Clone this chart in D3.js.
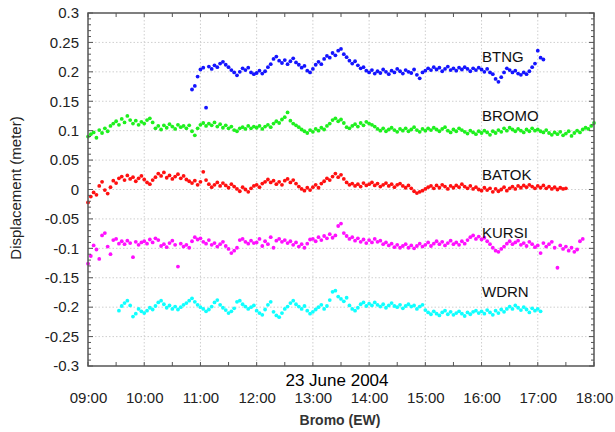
<!DOCTYPE html>
<html>
<head>
<meta charset="utf-8">
<script src="https://cdn.jsdelivr.net/npm/d3@7"></script>
<style>
  html, body { margin: 0; padding: 0; background: #fff; }
  svg { display: block; }
  text { font-family: "Liberation Sans", Arial, Helvetica, sans-serif; }
</style>
</head>
<body>
<svg id="chart" width="615" height="432"></svg>
<script>
// ---------- data (displacement in millimetres, one sample every 3 minutes) ----------
const sampleStepMin = 3;
const seriesNames = ["BTNG", "BROMO", "BATOK", "KURSI", "WDRN"];
const seriesColors = ["#1414ff", "#1ef01e", "#ff1010", "#ff10ff", "#10ffff"];
const seriesStart = ["10:51", "09:00", "09:00", "09:00", "09:33"];

const btngMm = [170,176,192,204,
 207,139,209,205,211,208,214,217,212,208,203,199,194,200,206,203,207,199,196,
 198,202,197,201,208,213,222,226,219,215,220,213,218,223,216,212,207,210,202,199,
 205,212,217,213,222,227,224,232,228,236,239,230,225,219,214,218,211,206,208,202,
 199,203,197,201,198,204,200,196,202,199,205,201,197,203,200,198,204,195,189,199,
 202,206,203,208,204,207,201,205,209,203,206,202,207,204,208,205,201,206,203,207,
 204,200,205,199,196,188,183,191,199,206,203,199,202,197,195,199,196,201,208,214,
 236,224,221];

const bromoMm = [
 90,94,97,88,101,96,104,99,108,112,116,110,120,114,125,118,112,117,110,115,
 112,118,121,114,104,108,102,109,105,111,107,103,110,106,108,104,109,99,92,104,
 110,113,108,112,109,114,107,111,105,109,104,107,101,99,104,106,103,108,104,107,
 105,108,103,107,110,106,112,116,113,119,123,131,117,112,109,106,102,99,96,101,
 98,103,100,105,102,108,112,118,121,116,119,113,106,104,108,111,107,113,109,115,
 112,110,107,103,100,104,99,102,105,101,98,103,100,104,99,102,106,101,98,103,
 100,104,101,105,102,99,103,106,100,97,102,99,104,101,98,95,100,97,94,99,
 96,100,97,93,99,96,101,98,104,100,105,102,99,103,100,97,102,99,104,100,
 102,99,97,101,96,93,97,94,98,92,95,99,91,96,100,97,102,105,103,108,
 113];

const batokMm = [
 -22,-12,-5,-9,6,13,-1,-7,4,15,11,19,22,16,24,18,21,14,19,23,
 17,12,9,16,21,27,23,29,20,24,18,22,26,19,23,17,14,11,15,8,
 13,30,16,9,4,8,12,6,11,7,3,9,5,1,-3,4,0,-4,2,6,
 8,4,10,13,17,12,15,9,13,8,15,18,12,16,10,5,1,-2,3,-1,
 4,8,3,10,14,19,16,22,27,21,25,18,12,8,10,6,9,5,11,7,
 9,12,7,10,5,8,11,6,9,4,8,10,6,3,7,2,-3,-6,-4,-2,
 1,4,6,2,7,3,8,5,1,6,3,7,4,9,5,2,6,1,4,0,
 -2,3,-1,2,-4,1,-3,0,4,-2,2,5,1,6,3,7,4,8,5,2,
 6,3,7,2,5,1,4,0,3,1,2];

const kursiMm = [
 -126,-113,-95,-102,-118,-78,-74,-97,-110,-86,-84,-92,-88,-93,-87,-91,-115,-89,-94,-90,
 -88,-92,-85,-90,-83,-86,-96,-93,-98,-91,-87,-94,-131,-92,-97,-94,-99,-88,-81,-85,
 -83,-89,-92,-86,-94,-91,-97,-93,-89,-96,-101,-108,-104,-99,-86,-84,-89,-92,-87,-91,
 -90,-84,-96,-88,-93,-81,-99,-87,-84,-89,-86,-91,-88,-94,-90,-97,-93,-99,-92,-85,
 -84,-88,-81,-86,-79,-83,-76,-82,-78,-62,-58,-74,-79,-84,-81,-87,-83,-89,-85,-91,
 -86,-90,-84,-89,-87,-93,-90,-95,-92,-98,-94,-99,-96,-93,-99,-95,-100,-96,-92,-97,
 -94,-90,-96,-92,-88,-93,-89,-95,-91,-87,-93,-90,-94,-88,-92,-86,-81,-78,-84,-80,
 -85,-82,-88,-93,-99,-104,-106,-101,-97,-92,-88,-93,-90,-87,-94,-91,-96,-89,-93,-98,
 -95,-108,-91,-97,-93,-89,-99,-133,-95,-101,-97,-104,-99,-106,-102,-88,-84];

const wdrnMm = [
 -206,-198,-193,-189,-197,-216,-211,-203,-207,
 -210,-206,-201,-204,-198,-192,-189,-195,-201,-197,-203,-199,-204,-200,-196,-193,-189,-185,-191,-196,
 -200,-203,-207,-204,-199,-192,-188,-196,-201,-205,-210,-207,-202,-191,-189,-195,-199,-203,-200,-197,
 -206,-210,-213,-204,-196,-191,-208,-214,-217,-210,-203,-199,-193,-189,-195,-199,-203,-198,-206,-211,
 -208,-204,-200,-196,-203,-198,-188,-174,-172,-182,-186,-190,-184,-197,-203,-206,-201,-195,-192,-198,
 -194,-197,-192,-196,-199,-195,-201,-197,-193,-198,-200,-196,-202,-198,-195,-199,-197,-203,-199,-196,
 -205,-209,-212,-207,-211,-214,-209,-206,-212,-208,-213,-210,-207,-211,-215,-209,-212,-208,-206,-210,
 -207,-211,-205,-209,-213,-206,-210,-204,-208,-203,-199,-203,-197,-201,-205,-200,-204,-209,-202,-206,
 -203,-207];

const seriesValues = [btngMm, bromoMm, batokMm, kursiMm, wdrnMm];

const yTicks = [0.3,0.25,0.2,0.15,0.1,0.05,0,-0.05,-0.1,-0.15,-0.2,-0.25,-0.3];
const xTickLabels = ["09:00","10:00","11:00","12:00","13:00","14:00","15:00","16:00","17:00","18:00"];
const dateLabel = "23 June 2004";
const xTitle = "Bromo (EW)";
const yTitle = "Displacement (meter)";

// ---------- drawing ----------
const svg = d3.select("#chart");
const pLeft = 88, pRight = 594, pTop = 13, pBottom = 366;

const day = "2004-06-23";
const parse = d3.timeParse("%Y-%m-%d %H:%M");
const x = d3.scaleTime()
  .domain([parse(day + " 09:00"), parse(day + " 18:00")])
  .range([pLeft, pRight]);
const y = d3.scaleLinear().domain([-0.3, 0.3]).range([pBottom, pTop]);

const xTicks = xTickLabels.map(s => parse(day + " " + s));
const xMinor = d3.timeMinute.every(30).range(x.domain()[0], d3.timeMinute.offset(x.domain()[1], 1));
const yMinor = d3.range(-30, 31).map(v => v / 100);

// grid
const grid = svg.append("g");
grid.selectAll("line.gx").data(xTicks.slice(1, -1)).join("line")
  .attr("x1", d => x(d)).attr("x2", d => x(d)).attr("y1", pTop).attr("y2", pBottom)
  .attr("stroke", "#cfcfcf").attr("stroke-width", 1).attr("stroke-dasharray", "1.5,2");
grid.selectAll("line.gy").data(yTicks.slice(1, -1)).join("line")
  .attr("x1", pLeft).attr("x2", pRight).attr("y1", d => y(d)).attr("y2", d => y(d))
  .attr("stroke", "#cfcfcf").attr("stroke-width", 1).attr("stroke-dasharray", "1.5,2");

// points
seriesNames.forEach((name, i) => {
  const start = parse(day + " " + seriesStart[i]);
  const pts = seriesValues[i].map((mm, k) => ({ t: d3.timeMinute.offset(start, k * sampleStepMin), v: mm / 1000 }));
  svg.append("g").selectAll("circle").data(pts).join("circle")
    .attr("cx", d => x(d.t)).attr("cy", d => y(d.v)).attr("r", 1.9)
    .attr("fill", seriesColors[i]);
});

// ticks (inward, on all four sides)
const ticks = svg.append("g").attr("stroke", "#555").attr("stroke-width", 1);
ticks.selectAll("line.xb").data(xMinor).join("line")
  .attr("x1", d => x(d)).attr("x2", d => x(d)).attr("y1", pBottom).attr("y2", pBottom - 4);
ticks.selectAll("line.xt").data(xMinor).join("line")
  .attr("x1", d => x(d)).attr("x2", d => x(d)).attr("y1", pTop).attr("y2", pTop + 4);
ticks.selectAll("line.yl").data(yMinor).join("line")
  .attr("x1", pLeft).attr("x2", d => pLeft + (Math.round(d * 100) % 5 === 0 ? 5 : 3))
  .attr("y1", d => y(d)).attr("y2", d => y(d));
ticks.selectAll("line.yr").data(yMinor).join("line")
  .attr("x1", pRight).attr("x2", d => pRight - (Math.round(d * 100) % 5 === 0 ? 5 : 3))
  .attr("y1", d => y(d)).attr("y2", d => y(d));

// frame
svg.append("rect").attr("x", pLeft).attr("y", pTop)
  .attr("width", pRight - pLeft).attr("height", pBottom - pTop)
  .attr("fill", "none").attr("stroke", "#555").attr("stroke-width", 1.5);

// tick labels via d3 axes (lines hidden; labels only)
const yAxis = svg.append("g").attr("transform", `translate(${pLeft},0)`)
  .call(d3.axisLeft(y).tickValues(yTicks).tickSize(0).tickPadding(9)
    .tickFormat(d => String(+d.toFixed(2))));
yAxis.select(".domain").remove();
yAxis.selectAll("text").attr("font-size", 15).attr("fill", "#222")
  .style("font-family", "Liberation Sans, Arial, sans-serif");

const xAxis = svg.append("g").attr("transform", `translate(0,${pBottom})`)
  .call(d3.axisBottom(x).tickValues(xTicks).tickSize(0).tickPadding(26)
    .tickFormat(d3.timeFormat("%H:%M")));
xAxis.select(".domain").remove();
xAxis.selectAll("text").attr("font-size", 15).attr("fill", "#222")
  .style("font-family", "Liberation Sans, Arial, sans-serif");

// series labels
const labelY = [61.7, 120.7, 180, 238.3, 296.7];
seriesNames.forEach((name, i) => {
  svg.append("text").attr("x", 482).attr("y", labelY[i])
    .attr("font-size", 15).attr("fill", "#111").text(name);
});

// titles
svg.append("text").attr("x", 337).attr("y", 386).attr("text-anchor", "middle")
  .attr("font-size", 17).attr("fill", "#000").text(dateLabel);
svg.append("text").attr("x", 340).attr("y", 425).attr("text-anchor", "middle")
  .attr("font-size", 14).attr("font-weight", "bold").attr("fill", "#333").text(xTitle);
svg.append("text").attr("transform", "translate(21,188) rotate(-90)")
  .attr("text-anchor", "middle").attr("font-size", 15).attr("fill", "#222").text(yTitle);
</script>
</body>
</html>
